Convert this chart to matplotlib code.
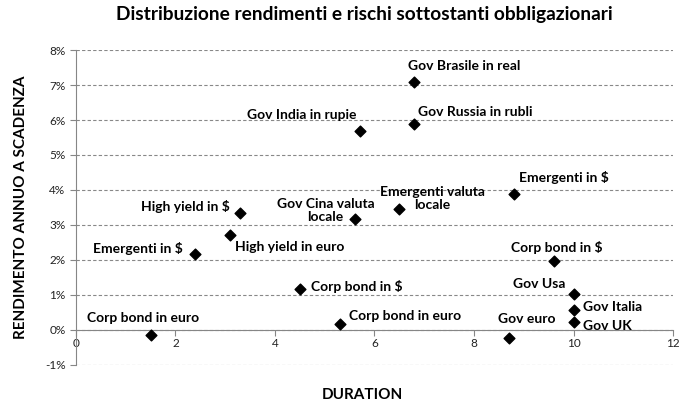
import matplotlib.pyplot as plt
from matplotlib.ticker import FuncFormatter

# data
labels = [
    "Corp bond in euro", "Emergenti in $", "High yield in euro", "High yield in $",
    "Corp bond in $", "Corp bond in euro", "Gov Cina valuta\nlocale",
    "Emergenti valuta\nlocale", "Gov India in rupie", "Gov Brasile in real",
    "Gov Russia in rubli", "Emergenti in $", "Corp bond in $", "Gov Usa",
    "Gov Italia", "Gov UK", "Gov euro",
]
duration = [1.5, 2.4, 3.1, 3.3, 4.5, 5.3, 5.6, 6.5, 5.7, 6.8, 6.8, 8.8, 9.6, 10.0, 10.0, 10.0, 8.7]
rendimento = [-0.14, 2.17, 2.71, 3.34, 1.17, 0.17, 3.17, 3.46, 5.69, 7.09, 5.89, 3.89, 1.97, 1.03, 0.57, 0.23, -0.23]

# label offsets in pixels (dx, dy)
offsets = [
    (-7, 17), (-57, 5), (60, -12), (-55, 7), (57, 2), (65, 8), (-29, 9),
    (33, 10), (-58, 16), (50, 16), (61, 12), (50, 16), (3, 13), (-34, 10),
    (39, 3), (34, -4), (18, 19),
]

plt.rcParams['font.family'] = ['Lato', 'DejaVu Sans']

fig = plt.figure(figsize=(6.96, 4.17), dpi=100)
ax = fig.add_axes([0.109, 0.125, 0.858, 0.755])

ax.scatter(duration, rendimento, marker='D', s=30, color='black', zorder=3)

for lab, x, y, (dx, dy) in zip(labels, duration, rendimento, offsets):
    ax.annotate(lab, (x, y), xytext=(dx, dy), textcoords='offset pixels',
                ha='center', va='center', fontsize=10, fontweight='bold',
                linespacing=1.1, multialignment='center')

ax.set_xlim(0, 12)
ax.set_ylim(-1, 8)
ax.set_xticks(range(0, 13, 2))
ax.set_yticks(range(-1, 9))
ax.yaxis.set_major_formatter(FuncFormatter(lambda v, p: f"{int(v)}%"))
ax.grid(axis='y', linestyle=(0, (3, 2)), color='#888888', linewidth=0.8)
ax.set_axisbelow(True)

ax.spines['top'].set_visible(False)
ax.spines['right'].set_visible(False)
ax.spines['bottom'].set_position(('data', 0))
for s in ('left', 'bottom'):
    ax.spines[s].set_color('#868686')
ax.tick_params(axis='both', colors='#868686', labelcolor='#222222', labelsize=8.5, length=4)
ax.tick_params(axis='x', pad=2)

ax.set_xlabel("DURATION", fontsize=11, fontweight='bold')
ax.xaxis.set_label_coords(0.479, -0.075)
ax.set_ylabel("RENDIMENTO ANNUO A SCADENZA", fontsize=11, fontweight='bold', labelpad=12)
fig.suptitle("Distribuzione rendimenti e rischi sottostanti obbligazionari",
             fontsize=13.8, fontweight='bold', x=0.523, y=0.985)

fig.savefig("out.png", dpi=100)
